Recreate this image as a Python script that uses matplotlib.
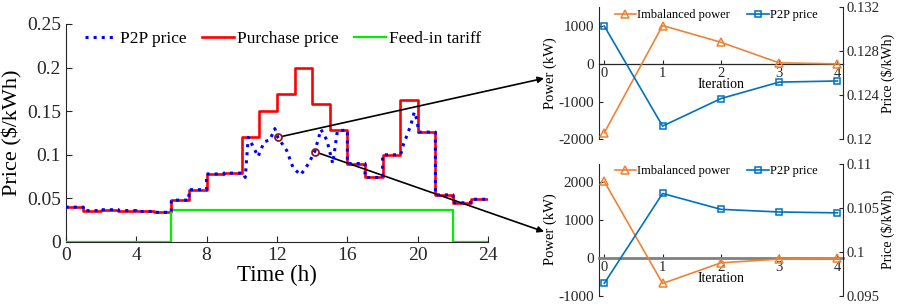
import numpy as np
import matplotlib.pyplot as plt

plt.rcParams['font.family'] = ['Liberation Serif', 'DejaVu Serif']
plt.rcParams['axes.unicode_minus'] = False
plt.rcParams['xtick.direction'] = 'in'
plt.rcParams['ytick.direction'] = 'in'

# ---- main chart data ----
hours = list(range(25))
purchase = [0.040, 0.036, 0.037, 0.036, 0.035, 0.034, 0.048, 0.060, 0.078, 0.079,
            0.120, 0.150, 0.170, 0.200, 0.158, 0.128, 0.090, 0.074, 0.100, 0.163,
            0.126, 0.054, 0.045, 0.049, 0.049]
feed_t = [0, 6, 22, 24]
feed_v = [0, 0.0365, 0, 0]
p2p_t = [0, 1, 1, 2, 2, 3, 3, 4, 4, 5, 5, 6, 6, 7, 7, 8, 8, 9, 9, 10.1, 10.2, 10.37,
         10.66, 10.93, 11.28, 11.6, 11.88, 12.05, 12.55, 12.93, 13.35, 13.8, 14.15,
         14.5, 14.83, 15.17, 15.43, 15.5, 16, 16, 17, 17, 18, 18, 19, 19.05, 19.2,
         19.4, 19.6, 19.8, 19.95, 20.05, 21, 21, 22, 22, 23, 23, 24]
p2p_v = [0.040, 0.040, 0.036, 0.036, 0.037, 0.037, 0.036, 0.036, 0.035, 0.035, 0.034,
         0.034, 0.048, 0.048, 0.060, 0.060, 0.078, 0.078, 0.079, 0.079, 0.074, 0.120,
         0.109, 0.098, 0.115, 0.117, 0.130, 0.120, 0.105, 0.0845, 0.077, 0.090, 0.104,
         0.129, 0.117, 0.090, 0.127, 0.128, 0.128, 0.090, 0.090, 0.074, 0.074, 0.100,
         0.100, 0.102, 0.113, 0.123, 0.134, 0.149, 0.140, 0.126, 0.126, 0.054, 0.054,
         0.045, 0.045, 0.049, 0.049]
marked_t = [12.05, 14.15]
marked_v = [0.120, 0.1035]

# ---- iteration subplots data ----
iters = [0, 1, 2, 3, 4]
imb_top = [-1830, 1016, 573, 27, 0]
price_top = [0.1303, 0.1212, 0.1237, 0.1252, 0.1253]
imb_bot = [2026, -675, -130, -30, -5]
price_bot = [0.0964, 0.1066, 0.1048, 0.1045, 0.1044]

fig = plt.figure(figsize=(8.97, 3.05), dpi=100)
dark = '#262626'

ax = fig.add_axes([0.0732, 0.2066, 0.4711, 0.7148])
ax.plot(p2p_t, p2p_v, ':', color='blue', lw=2.2, label='P2P price', zorder=4)
ax.step(hours, purchase, where='post', color='red', lw=1.9, label='Purchase price', zorder=3)
ax.step(feed_t, feed_v, where='post', color='#00ee00', lw=1.6, label='Feed-in tariff', zorder=3)
ax.plot(marked_t, marked_v, 'o', mfc='none', mec='#8b1a1a', ms=5, mew=1.3, zorder=5)
ax.set_xlim(0, 24)
ax.set_ylim(0, 0.25)
ax.set_xticks(range(0, 25, 4))
ax.set_yticks([0, 0.05, 0.1, 0.15, 0.2, 0.25])
ax.set_yticklabels(['0', '0.05', '0.1', '0.15', '0.2', '0.25'])
ax.tick_params(labelsize=14, colors=dark, length=4)
for s in ['top', 'right']:
    ax.spines[s].set_visible(False)
for s in ['left', 'bottom']:
    ax.spines[s].set_color(dark)
ax.set_xlabel('Time (h)', fontsize=16.5, labelpad=1)
ax.set_ylabel('Price ($/kWh)', fontsize=16, labelpad=3)
ax.legend(loc='upper center', bbox_to_anchor=(0.515, 1.0), ncol=3, frameon=False,
          fontsize=12.5, handlelength=1.8, columnspacing=0.9, handletextpad=0.2,
          borderaxespad=0.0)

# arrows to the iteration plots
for (tx, ty), (fx, fy) in zip(zip(marked_t, marked_v), [(0.6065, 0.7433), (0.6065, 0.2403)]):
    ax.annotate('', xy=(fx, fy), xycoords='figure fraction', xytext=(tx, ty),
                textcoords='data', annotation_clip=False,
                arrowprops=dict(arrowstyle='-|>', color='black', lw=1.2,
                                shrinkA=3.5, shrinkB=0, mutation_scale=9))

orange = '#f08233'
blue = '#0072bd'


def iter_plot(rect, imb, price, ylim, yticks, pylim, pticks, plabels, zero_color, zero_lw):
    a = fig.add_axes(rect)
    l1, = a.plot(iters, imb, '-^', color=orange, mfc='none', ms=6, mew=1.1, lw=1.2,
                 label='Imbalanced power', zorder=4)
    a.set_xlim(-0.09, 4.09)
    a.set_ylim(*ylim)
    a.set_yticks(yticks)
    a.set_xticks(iters)
    a.spines['bottom'].set_position(('data', 0))
    a.spines['bottom'].set_color(zero_color)
    a.spines['bottom'].set_linewidth(zero_lw)
    a.spines['top'].set_visible(False)
    a.spines['right'].set_visible(False)
    a.spines['left'].set_color(dark)
    a.tick_params(labelsize=11, colors=dark, length=3)
    a.tick_params(axis='x', labelsize=10.5, pad=2)
    a.set_xlabel('Iteration', fontsize=10, labelpad=-1)
    a.set_ylabel('Power (kW)', fontsize=10.5, labelpad=1)
    b = a.twinx()
    l2, = b.plot(iters, price, '-s', color=blue, mfc='none', ms=4.5, mew=1.1, lw=1.2,
                 label='P2P price', zorder=4)
    b.set_ylim(*pylim)
    b.set_yticks(pticks)
    b.set_yticklabels(plabels)
    for s in ['top', 'bottom', 'left']:
        b.spines[s].set_visible(False)
    b.spines['right'].set_color(dark)
    b.tick_params(labelsize=10.5, colors=dark, length=3, pad=3)
    b.set_ylabel('Price ($/kWh)', fontsize=10, labelpad=1)
    b.legend([l1, l2], ['Imbalanced power', 'P2P price'], loc='upper center',
             bbox_to_anchor=(0.48, 1.025), ncol=2, frameon=False, fontsize=9,
             handlelength=1.7, columnspacing=1.4, handletextpad=0.1, borderaxespad=0.0)


iter_plot([0.6678, 0.5433, 0.2717, 0.4328], imb_top, price_top, (-2000, 1500),
          [-2000, -1000, 0, 1000], (0.12, 0.132), [0.12, 0.124, 0.128, 0.132],
          ['0.12', '0.124', '0.128', '0.132'], dark, 0.9)
iter_plot([0.6678, 0.0305, 0.2717, 0.4334], imb_bot, price_bot, (-1000, 2500),
          [-1000, 0, 1000, 2000], (0.095, 0.11), [0.095, 0.1, 0.105, 0.11],
          ['0.095', '0.1', '0.105', '0.11'], '#808080', 2.0)

fig.savefig('out.png', dpi=100)
